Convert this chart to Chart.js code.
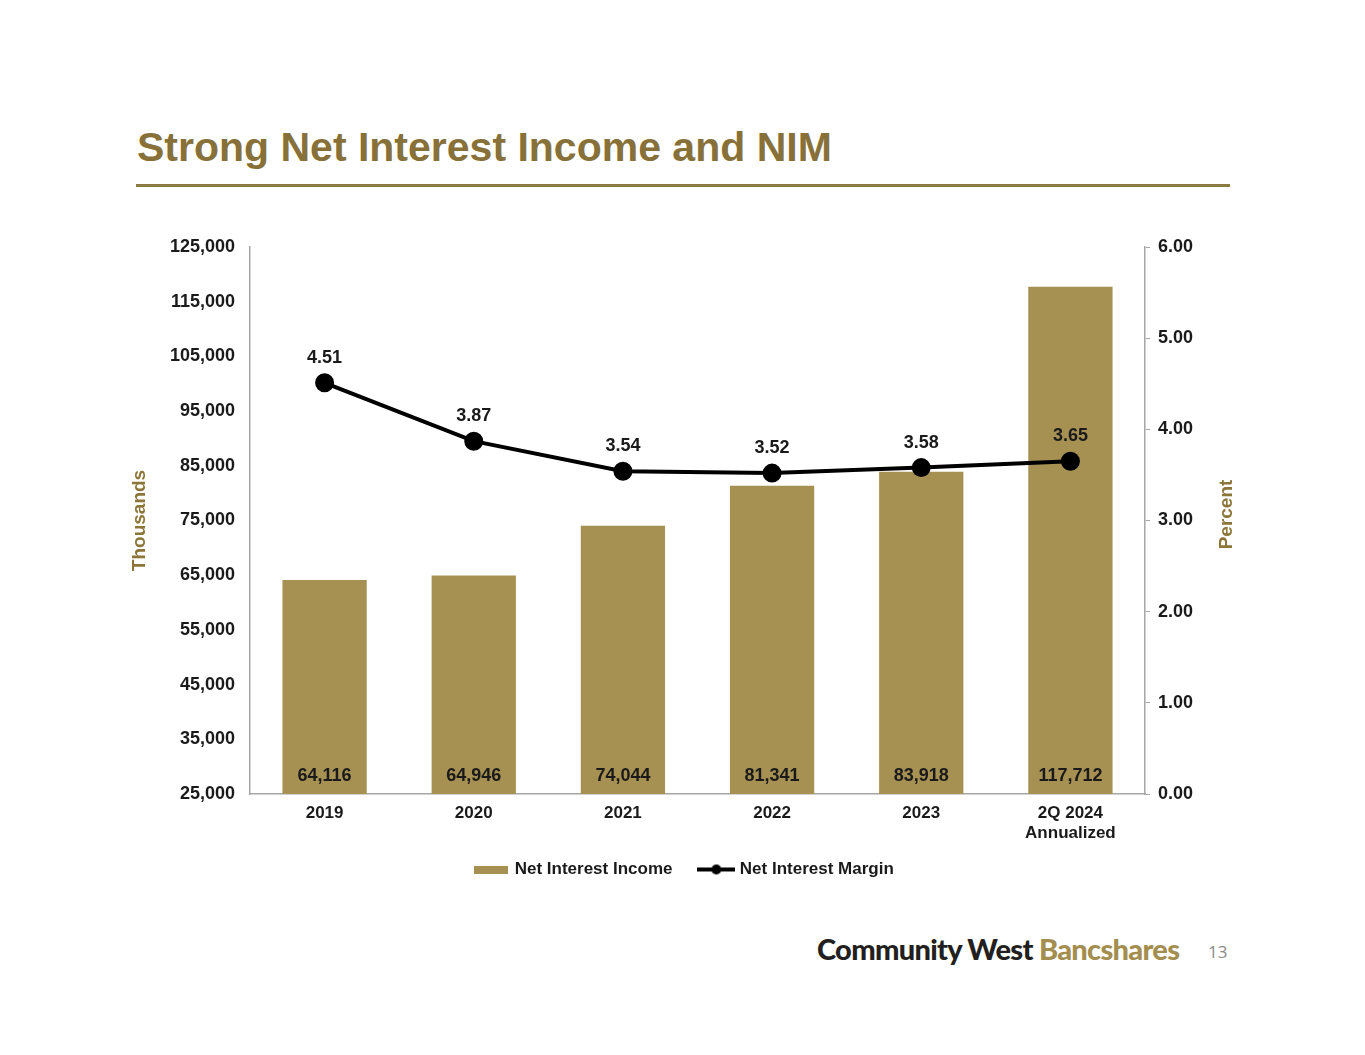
<!DOCTYPE html>
<html>
<head>
<meta charset="utf-8">
<script src="https://cdn.jsdelivr.net/npm/chart.js@4.4.1/dist/chart.umd.min.js"></script>
<style>
  html, body { margin: 0; padding: 0; background: #fff; }
  body { width: 1365px; height: 1055px; position: relative; overflow: hidden; font-family: "Liberation Sans", Arial, sans-serif; }
  #title { position: absolute; left: 137px; top: 124px; font-size: 41px; font-weight: bold; color: #877139; }
  #rule { position: absolute; left: 136px; top: 184px; width: 1094px; height: 3px; background: #8c7a45; }
  #wrap { position: absolute; left: 120px; top: 225px; width: 1130px; height: 671px; }
  #footer { position: absolute; left: 817px; top: 931px; font-family: "Lato", "Open Sans", sans-serif; font-weight: 900; font-size: 29px; letter-spacing: -0.7px; color: #231f20; }
  #footer span { color: #a38e4f; }
  #page { position: absolute; left: 1208px; top: 940px; font-family: "Open Sans", sans-serif; font-size: 17px; color: #8a8a8a; }
</style>
</head>
<body>
<div id="title">Strong Net Interest Income and NIM</div>
<div id="rule"></div>
<div id="wrap"><canvas id="chart"></canvas></div>
<div id="footer">Community West <span>Bancshares</span></div>
<div id="page">13</div>
<script>
// values
const categories = ["2019", "2020", "2021", "2022", "2023", ["2Q 2024", "Annualized"]];
const netInterestIncome = [64116, 64946, 74044, 81341, 83918, 117712];
const netInterestMargin = [4.51, 3.87, 3.54, 3.52, 3.58, 3.65];

const GOLD = "#a69153";
const GOLD_TEXT = "#8c7538";
const FONT = "'Liberation Sans', Arial, sans-serif";

// legend icons
function barIcon() {
  const c = document.createElement("canvas");
  c.width = 34; c.height = 8;
  const g = c.getContext("2d");
  g.fillStyle = GOLD;
  g.fillRect(0, 0, 34, 8);
  return c;
}
function lineIcon() {
  const c = document.createElement("canvas");
  c.width = 38; c.height = 12;
  const g = c.getContext("2d");
  g.strokeStyle = "#000";
  g.lineWidth = 4;
  g.beginPath(); g.moveTo(0, 6); g.lineTo(38, 6); g.stroke();
  g.fillStyle = "#000";
  g.beginPath(); g.arc(19, 6, 5, 0, Math.PI * 2); g.fill();
  return c;
}

const valueLabels = {
  id: "valueLabels",
  afterDatasetsDraw(chart) {
    const ctx = chart.ctx;
    ctx.save();
    ctx.font = "bold 18px " + FONT;
    ctx.fillStyle = "#1a1a1a";
    ctx.textAlign = "center";
    ctx.textBaseline = "middle";
    const bars = chart.getDatasetMeta(0).data;
    const bottom = chart.chartArea.bottom;
    bars.forEach((b, i) => {
      ctx.fillText(netInterestIncome[i].toLocaleString("en-US"), b.x, bottom - 18);
    });
    const pts = chart.getDatasetMeta(1).data;
    pts.forEach((p, i) => {
      ctx.fillText(netInterestMargin[i].toFixed(2), p.x, p.y - 25);
    });
    // right axis title, reading bottom to top
    ctx.font = "bold 19px " + FONT;
    ctx.fillStyle = GOLD_TEXT;
    ctx.translate(chart.chartArea.right + 82, (chart.chartArea.top + chart.chartArea.bottom) / 2 - 6);
    ctx.rotate(-Math.PI / 2);
    ctx.fillText("Percent", 0, 0);
    ctx.restore();
  }
};

new Chart(document.getElementById("chart"), {
  type: "bar",
  data: {
    labels: categories,
    datasets: [
      {
        label: "Net Interest Income",
        data: netInterestIncome,
        backgroundColor: GOLD,
        yAxisID: "y",
        barPercentage: 0.565,
        categoryPercentage: 1,
        order: 2,
      },
      {
        type: "line",
        label: "Net Interest Margin",
        data: netInterestMargin,
        borderColor: "#000",
        backgroundColor: "#000",
        borderWidth: 4,
        pointRadius: 7.5,
        pointHoverRadius: 7.5,
        yAxisID: "y1",
        order: 1,
      },
    ],
  },
  options: {
    responsive: true,
    maintainAspectRatio: false,
    animation: false,
    layout: { padding: { top: 22, bottom: 8 } },
    plugins: {
      tooltip: { enabled: false },
      legend: {
        position: "bottom",
        labels: {
          usePointStyle: true,
          pointStyleWidth: 30,
          color: "#1a1a1a",
          font: { family: FONT, size: 17, weight: "bold" },
          padding: 10,
          generateLabels() {
            return [
              { text: "Net Interest Income    ", pointStyle: barIcon(), datasetIndex: 0, fontColor: "#1a1a1a", lineWidth: 0, strokeStyle: "transparent", fillStyle: GOLD },
              { text: "Net Interest Margin", pointStyle: lineIcon(), datasetIndex: 1, fontColor: "#1a1a1a", lineWidth: 0, strokeStyle: "transparent", fillStyle: "#000" },
            ];
          },
        },
      },
    },
    scales: {
      x: {
        grid: { display: false },
        border: { color: "#a6a6a6", width: 1.5 },
        ticks: { color: "#1a1a1a", font: { family: FONT, size: 17, weight: "bold" }, padding: 1, maxRotation: 0 },
        afterFit(scale) { scale.height = 57; },
      },
      y: {
        position: "left",
        min: 25000,
        max: 125000,
        grid: { display: false },
        border: { color: "#a6a6a6", width: 1.5 },
        ticks: {
          stepSize: 10000,
          color: "#1a1a1a",
          padding: 7,
          font: { family: FONT, size: 18, weight: "bold" },
          callback: (v) => v.toLocaleString("en-US"),
        },
        title: { display: true, text: "Thousands", color: GOLD_TEXT, font: { family: FONT, size: 19, weight: "bold" }, padding: { top: 8, bottom: 0 } },
        afterFit(scale) { scale.width = 130; },
      },
      y1: {
        position: "right",
        min: 0,
        max: 6,
        grid: { display: true, drawOnChartArea: false, drawTicks: true, tickLength: 5, color: "#a6a6a6" },
        border: { color: "#a6a6a6", width: 1.5 },
        ticks: {
          stepSize: 1,
          color: "#1a1a1a",
          padding: 8,
          font: { family: FONT, size: 18, weight: "bold" },
          callback: (v) => v.toFixed(2),
        },
        afterFit(scale) { scale.width = 105; },
      },
    },
  },
  plugins: [valueLabels],
});
</script>
</body>
</html>
